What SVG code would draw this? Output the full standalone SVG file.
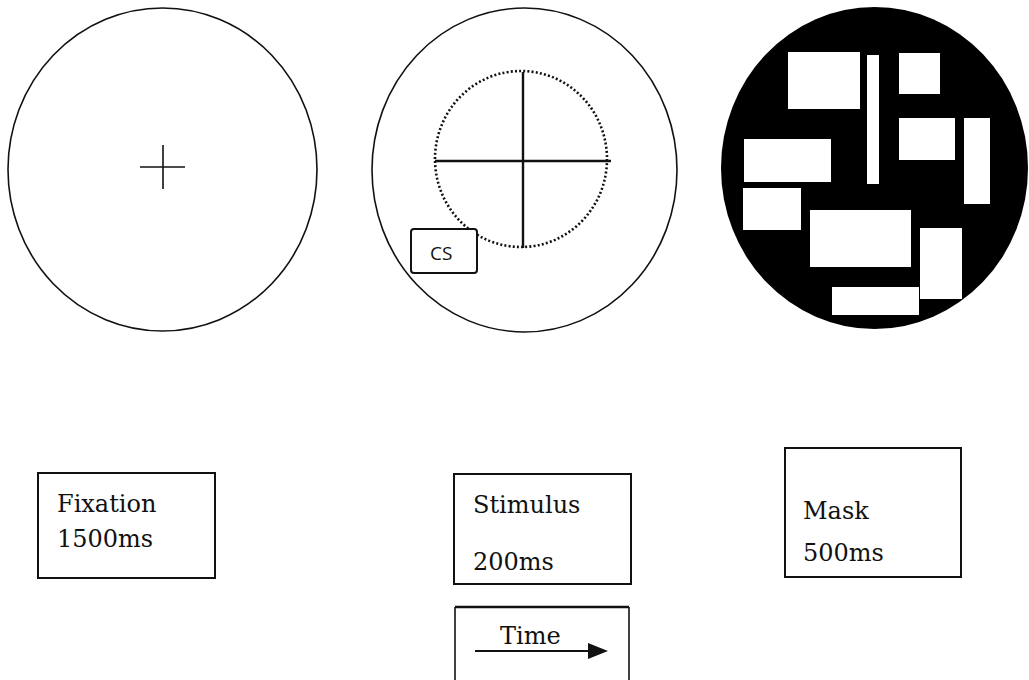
<svg xmlns="http://www.w3.org/2000/svg" width="1029" height="680" viewBox="0 0 1029 680">
<style>
.outline{fill:#fff;stroke:#111;stroke-width:1.6}
.line{stroke:#111;stroke-width:1.6;fill:none}
.box{fill:#fff;stroke:#111;stroke-width:2}
.lbl{font-family:"DejaVu Serif","Liberation Serif",serif;font-size:24px;fill:#111}
.cs{font-family:"Open Sans","Liberation Sans",sans-serif;font-size:19px;fill:#111}
.hole{fill:#fff}
</style>
<defs>
<marker id="arr" markerWidth="20" markerHeight="16" refX="1" refY="8" orient="auto" markerUnits="userSpaceOnUse" viewBox="0 0 20 16">
<path d="M0,0 L20,8 L0,16 Z" fill="#111"/>
</marker>
</defs>
<rect width="1029" height="680" fill="#fff"/>
<g id="fixation-screen">
<ellipse class="outline" cx="162.5" cy="169.5" rx="154.5" ry="161.5"/>
<line class="line" x1="140" y1="167" x2="185" y2="167"/>
<line class="line" x1="163" y1="145" x2="163" y2="189"/>
</g>
<g id="stimulus-screen">
<ellipse class="outline" cx="524.5" cy="170" rx="152.5" ry="162"/>
<ellipse cx="521" cy="159" rx="86" ry="88" fill="none" stroke="#111" stroke-width="2.6" stroke-dasharray="2 2.2"/>
<line x1="435" y1="161" x2="611" y2="161" stroke="#111" stroke-width="2.4"/>
<line x1="523" y1="72" x2="523" y2="248" stroke="#111" stroke-width="2.4"/>
<rect class="box" x="411" y="229" width="66" height="44" rx="3" stroke-width="1.6"/>
<text class="cs" x="430" y="260">CS</text>
</g>
<g id="mask-screen">
<ellipse cx="874.5" cy="168" rx="153.5" ry="161" fill="#000"/>
<rect class="hole" x="788" y="52" width="72" height="57"/>
<rect class="hole" x="867" y="55" width="12" height="129"/>
<rect class="hole" x="899" y="53" width="41" height="41"/>
<rect class="hole" x="899" y="118" width="56" height="42"/>
<rect class="hole" x="964" y="118" width="26" height="86"/>
<rect class="hole" x="744" y="139" width="87" height="43"/>
<rect class="hole" x="743" y="188" width="58" height="42"/>
<rect class="hole" x="810" y="210" width="101" height="57"/>
<rect class="hole" x="920" y="228" width="42" height="71"/>
<rect class="hole" x="832" y="287" width="87" height="28"/>
</g>
<g id="fixation-label">
<rect class="box" x="38" y="473" width="177" height="105"/>
<text class="lbl" x="57" y="512">Fixation</text>
<text class="lbl" x="57" y="547">1500ms</text>
</g>
<g id="stimulus-label">
<rect class="box" x="454" y="474" width="177" height="110"/>
<text class="lbl" x="473" y="513">Stimulus</text>
<text class="lbl" x="473" y="570">200ms</text>
</g>
<g id="mask-label">
<rect class="box" x="785" y="448" width="176" height="129"/>
<text class="lbl" x="803" y="519">Mask</text>
<text class="lbl" x="803" y="561">500ms</text>
</g>
<g id="time-label">
<line x1="455" y1="607" x2="629" y2="607" stroke="#111" stroke-width="2.4"/>
<line x1="455" y1="607" x2="455" y2="680" stroke="#111" stroke-width="1.6"/>
<line x1="629" y1="607" x2="629" y2="680" stroke="#111" stroke-width="1.6"/>
<text class="lbl" x="500" y="644">Time</text>
</g>
<g id="connectors">
<line x1="475" y1="651" x2="589" y2="651" stroke="#111" stroke-width="2" marker-end="url(#arr)"/>
</g>
</svg>
